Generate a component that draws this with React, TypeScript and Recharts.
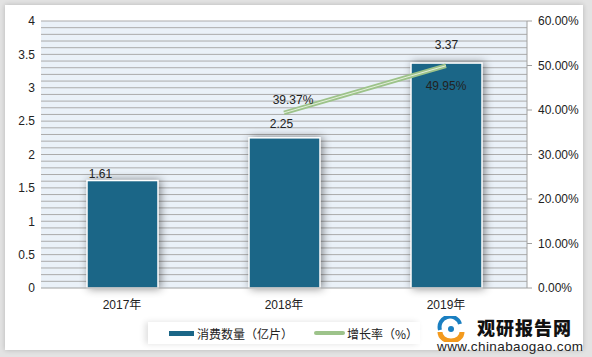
import React from 'react'
import { ComposedChart, Bar, Line, XAxis, YAxis, CartesianGrid, LabelList } from 'recharts'

const years = ['2017年', '2018年', '2019年']
const consumption = [1.61, 2.25, 3.37]
const growthRate: (number | null)[] = [null, 39.37, 49.95]
const leftTicks = [0, 0.5, 1, 1.5, 2, 2.5, 3, 3.5, 4]
const rightTicks = [0, 10, 20, 30, 40, 50, 60]
// fine grid lines every 0.1
const gridTicks = Array.from({ length: 40 }, (_, i) => (i + 1) / 10)

const data = years.map((year, i) => ({
  year,
  consumption: consumption[i],
  growth: growthRate[i],
}))

const BAR_COLOR = '#1b6687'
const LINE_COLOR = '#9dc38a'
const FONT = '"Liberation Sans", Arial, "Noto Sans CJK SC", sans-serif'

// label nudges [dx, dy] relative to bar top centre
const barLabelNudge = [[-22, -3], [-3, -10], [0, -14]]

// map the fine grid values through the left axis scale
const gridCoords = ({ yAxis, offset }: any) => {
  if (yAxis && typeof yAxis.scale === 'function') {
    return gridTicks.map((t) => yAxis.scale(t))
  }
  return gridTicks.map((t) => offset.top + offset.height * (1 - t / 4))
}

function BarShape(props: any) {
  const { x, y, width, height } = props
  return (
    <rect
      x={x}
      y={y}
      width={width}
      height={height}
      fill={BAR_COLOR}
      stroke="#fff"
      strokeWidth={1.5}
      style={{ filter: 'drop-shadow(2px 0px 4px rgba(0,0,0,0.45))' }}
    />
  )
}

function BarLabel(props: any) {
  const { x, y, width, value, index } = props
  const [dx, dy] = barLabelNudge[index] || [0, -8]
  return (
    <text x={x + width / 2 + dx} y={y + dy} textAnchor="middle" fontSize={12} fill="#222" fontFamily={FONT}>
      {Number(value).toFixed(2)}
    </text>
  )
}

function LineLabel(props: any) {
  const { x, y, value, index } = props
  if (value == null) return null
  const below = index === 2
  return (
    <text
      x={x + (below ? 0 : 9)}
      y={below ? y + 24 : y - 9}
      textAnchor="middle"
      fontSize={12}
      fill="#222"
      fontFamily={FONT}
    >
      {Number(value).toFixed(2)}%
    </text>
  )
}

function LegendBox() {
  return (
    <div
      style={{
        position: 'absolute',
        left: 148,
        top: 322,
        width: 272,
        height: 22,
        background: 'linear-gradient(90deg, #fff 0%, #fff 80%, rgba(255,255,255,0.7) 100%)',
        boxShadow: '-3px 0 6px rgba(0,0,0,0.12)',
        display: 'flex',
        alignItems: 'center',
        fontFamily: '"Noto Sans CJK SC", sans-serif',
        fontSize: 12,
        color: '#222',
      }}
    >
      <span style={{ display: 'inline-block', width: 25, height: 5, background: BAR_COLOR, marginLeft: 21, marginRight: 3 }} />
      <span>消费数量（亿片）</span>
      <span
        style={{
          display: 'inline-block',
          width: 31,
          height: 4,
          background: LINE_COLOR,
          borderRadius: 2,
          marginLeft: 21,
          marginRight: 2,
        }}
      />
      <span>增长率（%）</span>
    </div>
  )
}

function Watermark() {
  return (
    <div style={{ position: 'absolute', left: 436, top: 314, width: 150, height: 40 }}>
      <svg width={30} height={26} style={{ position: 'absolute', left: 0, top: 2 }}>
        <path d="M4 14 A10 10 0 0 1 24 8" stroke="#1a7fc1" strokeWidth={4} fill="none" />
        <path d="M4 16 A11 9 0 0 0 26 16" stroke="#f39a1e" strokeWidth={5} fill="none" />
        <circle cx={15} cy={13} r={3} fill="#1a7fc1" />
      </svg>
      <div
        style={{
          position: 'absolute',
          left: 41,
          top: 0,
          fontFamily: '"Noto Sans CJK SC", sans-serif',
          fontWeight: 900,
          fontSize: 18,
          letterSpacing: 1,
          color: '#111',
          lineHeight: '26px',
        }}
      >
        观研报告网
      </div>
      <div
        style={{
          position: 'absolute',
          left: 1,
          top: 25,
          fontFamily: FONT,
          fontSize: 13.5,
          letterSpacing: 0.4,
          color: '#222',
          lineHeight: '15px',
        }}
      >
        www.chinabaogao.com
      </div>
    </div>
  )
}

export default function App() {
  return (
    <div style={{ position: 'absolute', left: 0, top: 0, width: 592, height: 357, background: '#e3e3e3' }}>
      <div
        style={{
          position: 'absolute',
          left: 5,
          top: 5,
          width: 578,
          height: 345,
          background: '#fff',
          boxShadow: '0 0 5px rgba(0,0,0,0.2)',
        }}
      />
      <div style={{ position: 'absolute', left: 0, top: 0 }}>
        <ComposedChart
          width={592}
          height={357}
          data={data}
          margin={{ top: 21, right: 0, bottom: 39, left: 0 }}
          barCategoryGap="28%"
        >
          <CartesianGrid
            yAxisId="left"
            vertical={false}
            stroke="#ababab"
            fill="#eaf1f8"
            fillOpacity={1}
            horizontalCoordinatesGenerator={gridCoords}
          />
          <YAxis
            yAxisId="left"
            domain={[0, 4]}
            ticks={leftTicks}
            width={41}
            axisLine={false}
            tickLine={false}
            tickSize={4}
            tick={{ fontSize: 12, fill: '#222', fontFamily: FONT }}
          />
          <XAxis
            dataKey="year"
            tickLine={false}
            axisLine={{ stroke: '#a0a0a0' }}
            height={30}
            tick={{ fontSize: 12, fill: '#222', fontFamily: FONT }}
            tickMargin={6}
          />
          <YAxis
            yAxisId="right"
            orientation="right"
            domain={[0, 60]}
            ticks={rightTicks}
            width={65}
            axisLine={{ stroke: '#a0a0a0' }}
            tickLine={{ stroke: '#a0a0a0' }}
            tickSize={5}
            tickMargin={6}
            tickFormatter={(v: number) => v.toFixed(2) + '%'}
            tick={{ fontSize: 12, fill: '#222', fontFamily: FONT }}
          />
          <Bar
            yAxisId="left"
            dataKey="consumption"
            barSize={71}
            fill={BAR_COLOR}
            shape={<BarShape />}
            isAnimationActive={false}
          >
            <LabelList dataKey="consumption" content={<BarLabel />} />
          </Bar>
          <Line
            yAxisId="right"
            dataKey="growth"
            stroke={LINE_COLOR}
            strokeWidth={4.5}
            dot={false}
            activeDot={false}
            isAnimationActive={false}
            connectNulls
          >
            <LabelList dataKey="growth" content={<LineLabel />} />
          </Line>
          <Line
            yAxisId="right"
            dataKey="growth"
            stroke="#e4efdc"
            strokeWidth={1}
            dot={false}
            activeDot={false}
            isAnimationActive={false}
            connectNulls
          />
        </ComposedChart>
      </div>
      <LegendBox />
      <Watermark />
    </div>
  )
}
